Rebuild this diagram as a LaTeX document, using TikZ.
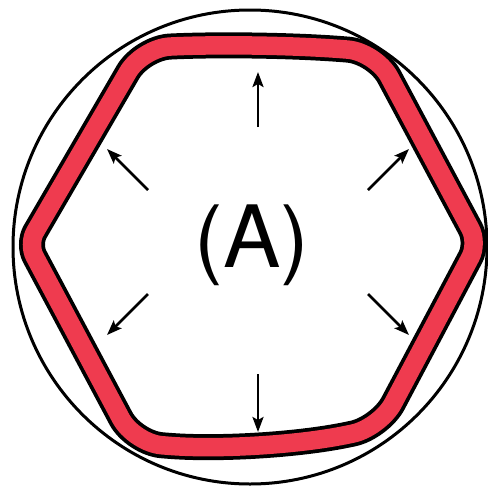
\documentclass[tikz,border=0pt]{standalone}
\usepackage{fontspec}
\setmainfont{TeX Gyre Heros}
\usetikzlibrary{arrows.meta,calc}
\definecolor{ringred}{RGB}{239,59,79}
\tikzset{
  push/.style={-{Stealth[length=15pt,width=11pt,inset=3pt]},line width=2.6pt},
}
\begin{document}
\begin{tikzpicture}[x=1pt,y=-1pt]
            \useasboundingbox (0,0) rectangle (488,488);
            % outer circle
            \draw[line width=3pt] (250,247) circle (237);
            % deformed hexagon ring
            \coordinate (L)  at (28,244);
            \coordinate (TL) at (142,48);
            \coordinate (TT) at (258,42);
            \coordinate (TR) at (376,52);
            \coordinate (R)  at (478,243);
            \coordinate (BR) at (380,428);
            \coordinate (BB) at (258,453);
            \coordinate (BL) at (134,443);
            \foreach \w/\c in {26pt/black,18.5pt/ringred}
              \draw[line width=\w,\c,line join=round]
                ($(L)!0.5!(BL)$) [rounded corners=14pt] -- (L)
                [rounded corners=28pt] -- (TL) [rounded corners=90pt] -- (TT)
                [rounded corners=28pt] -- (TR) [rounded corners=16pt] -- (R)
                [rounded corners=28pt] -- (BR) [rounded corners=90pt] -- (BB)
                [rounded corners=28pt] -- (BL) -- cycle;
            \node (lbl) at (252,245) {\fontsize{86}{90}\selectfont (A)};
            % arrows
            \coordinate (n0) at (258,127); \coordinate (n1) at (258,72);
            \coordinate (s0) at (258,374); \coordinate (s1) at (258,432);
            \coordinate (a0) at (148,190); \coordinate (a1) at (107,149);
            \coordinate (b0) at (368,190); \coordinate (b1) at (409,149);
            \coordinate (c0) at (148,294); \coordinate (c1) at (107,335);
            \coordinate (d0) at (368,294); \coordinate (d1) at (409,335);
            \foreach \p in {n,s,a,b,c,d}
              \draw[push] (\p0) -- (\p1);
        \end{tikzpicture}
\end{document}
